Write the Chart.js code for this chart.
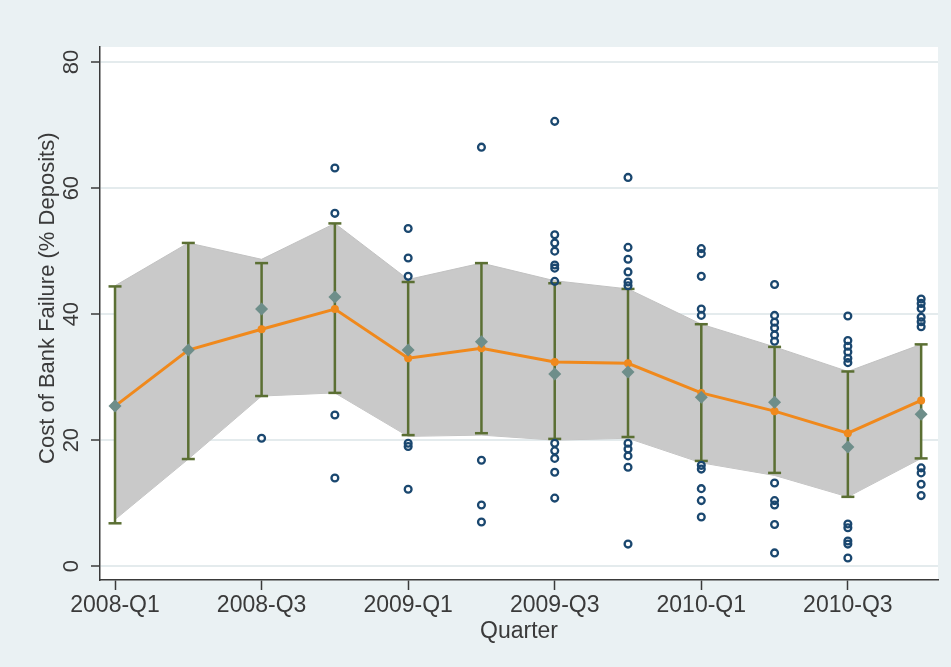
<!DOCTYPE html>
<html>
<head>
<meta charset="utf-8">
<title>Cost of Bank Failure by Quarter</title>
<script src="https://cdn.jsdelivr.net/npm/chart.js@4.4.1/dist/chart.umd.min.js"></script>
<style>
  html, body { margin: 0; padding: 0; background: #eaf1f3; }
  #chart { display: block; }
</style>
</head>
<body>
<canvas id="chart" width="951" height="667"></canvas>
<script>
// quarters on the x axis (index 0..11), labelled every second one
const quarters = ['2008-Q1', '2008-Q2', '2008-Q3', '2008-Q4',
  '2009-Q1', '2009-Q2', '2009-Q3', '2009-Q4',
  '2010-Q1', '2010-Q2', '2010-Q3', '2010-Q4']
const xTicks = [0, 2, 4, 6, 8, 10]
const yTicks = [0, 20, 40, 60, 80]

// mean cost per quarter (orange line)
const meanCost = [25.4, 34.3, 37.6, 40.8, 33.0, 34.6, 32.4, 32.2, 27.5, 24.6, 21.1, 26.3]
// median cost per quarter (diamonds)
const medianCost = [25.4, 34.3, 40.8, 42.7, 34.3, 35.6, 30.5, 30.8, 26.8, 26.0, 18.9, 24.1]
// whiskers (green caps)
const capHigh = [44.4, 51.3, 48.1, 54.4, 45.1, 48.1, 44.9, 44.0, 38.4, 34.8, 30.9, 35.2]
const capLow = [6.8, 17.0, 27.0, 27.5, 20.8, 21.1, 20.2, 20.5, 16.7, 14.8, 11.0, 17.1]
// shaded band
const bandHigh = [44.5, 51.3, 48.7, 54.4, 45.5, 48.1, 45.3, 44.0, 38.4, 34.8, 30.9, 35.2]
const bandLow = [7.4, 17.0, 27.0, 27.5, 20.6, 20.8, 20.0, 20.3, 16.4, 14.4, 11.0, 17.1]
// individual failures outside the whiskers
const outliers = [
  [],
  [],
  [20.3],
  [63.2, 56.0, 24.0, 14.0],
  [53.6, 48.9, 46.0, 19.5, 19.0, 12.2],
  [66.5, 16.8, 9.7, 7.0],
  [70.6, 52.6, 51.3, 50.0, 47.8, 47.3, 45.2, 19.5, 18.3, 17.1, 14.9, 10.8],
  [61.7, 50.6, 48.7, 46.7, 45.1, 44.5, 19.5, 18.6, 17.5, 15.7, 3.5],
  [50.4, 49.6, 46.0, 40.8, 39.8, 16.0, 15.4, 12.3, 10.4, 7.8],
  [44.7, 39.8, 38.7, 37.8, 36.7, 35.7, 13.2, 10.4, 9.7, 6.6, 2.1],
  [39.7, 35.8, 34.9, 34.0, 33.0, 32.3, 6.7, 6.1, 4.0, 3.5, 1.3],
  [42.4, 41.7, 40.9, 39.5, 38.8, 38.0, 15.6, 14.8, 13.0, 11.2]
]

const ink = '#3a3a3a'
Chart.defaults.font.family = '"Liberation Sans", Arial, sans-serif'
Chart.defaults.color = ink

const pts = arr => arr.map((v, i) => ({ x: i, y: v }))
const whiskers = capLow.flatMap((lo, i) => [{ x: i, y: lo }, { x: i, y: capHigh[i] }, { x: i, y: null }])
const dots = outliers.flatMap((vals, i) => vals.map(v => ({ x: i, y: v })))

// white plot region on the bluish-gray graph region
const plotRegion = {
  id: 'plotRegion',
  beforeDraw(chart) {
    const { ctx, chartArea: a } = chart
    ctx.save()
    ctx.fillStyle = '#ffffff'
    ctx.fillRect(a.left, a.top, a.right - a.left, a.bottom - a.top)
    ctx.restore()
  }
}

new Chart(document.getElementById('chart'), {
  type: 'line',
  data: {
    datasets: [
      {
        type: 'scatter',
        data: dots,
        pointStyle: 'circle',
        pointRadius: 3.4,
        borderWidth: 2.3,
        borderColor: '#1a476f',
        backgroundColor: 'rgba(0,0,0,0)',
        order: 0
      },
      {
        data: pts(medianCost),
        showLine: false,
        pointStyle: 'rectRot',
        pointRadius: 6.5,
        pointBorderWidth: 0,
        pointBackgroundColor: '#6e8e8a',
        order: 1
      },
      {
        data: pts(meanCost),
        borderColor: '#f0891c',
        borderWidth: 3,
        pointRadius: 4,
        pointBorderWidth: 0,
        pointBackgroundColor: '#f0891c',
        tension: 0,
        order: 2
      },
      {
        data: whiskers,
        borderColor: '#5b6f33',
        borderWidth: 2.5,
        spanGaps: false,
        pointStyle: 'line',
        pointRadius: 6.5,
        pointBorderWidth: 2.5,
        pointBorderColor: '#5b6f33',
        order: 3
      },
      {
        data: pts(bandHigh),
        borderColor: '#c2c2c2',
        borderWidth: 1,
        pointRadius: 0,
        backgroundColor: '#c9c9c9',
        fill: '+1',
        tension: 0,
        order: 4
      },
      {
        data: pts(bandLow),
        borderColor: '#c2c2c2',
        borderWidth: 1,
        pointRadius: 0,
        fill: false,
        tension: 0,
        order: 5
      }
    ]
  },
  options: {
    responsive: false,
    animation: false,
    devicePixelRatio: 1,
    layout: { padding: { top: 47, right: 13, left: 0, bottom: 0 } },
    plugins: { legend: { display: false }, tooltip: { enabled: false } },
    scales: {
      x: {
        type: 'linear',
        min: -0.205,
        max: 11.23,
        afterBuildTicks: s => { s.ticks = xTicks.map(v => ({ value: v })) },
        afterFit: s => { s.height = 87 },
        ticks: {
          autoSkip: false,
          maxRotation: 0,
          padding: 2,
          color: ink,
          font: { size: 23 },
          callback: v => quarters[v]
        },
        grid: { drawOnChartArea: false, tickLength: 10, tickColor: ink, tickWidth: 1.5 },
        border: { color: ink, width: 1.5 },
        title: { display: true, text: 'Quarter', color: ink, font: { size: 23 }, padding: { top: 0, bottom: 22 } }
      },
      y: {
        min: -2.2,
        max: 82.4,
        afterBuildTicks: s => { s.ticks = yTicks.map(v => ({ value: v })) },
        afterFit: s => { s.width = 100 },
        ticks: {
          minRotation: 90,
          maxRotation: 90,
          crossAlign: 'center',
          padding: 7,
          color: ink,
          font: { size: 22 }
        },
        grid: { color: '#e4ebed', lineWidth: 2, tickLength: 9, tickColor: ink, tickWidth: 1.5 },
        border: { color: ink, width: 1.5 },
        title: {
          display: true,
          text: '\u00a0\u00a0\u00a0\u00a0\u00a0Cost of Bank Failure (% Deposits)',
          color: ink,
          font: { size: 22 },
          padding: { top: 35, bottom: 0 }
        }
      }
    }
  },
  plugins: [plotRegion]
})
</script>
</body>
</html>
